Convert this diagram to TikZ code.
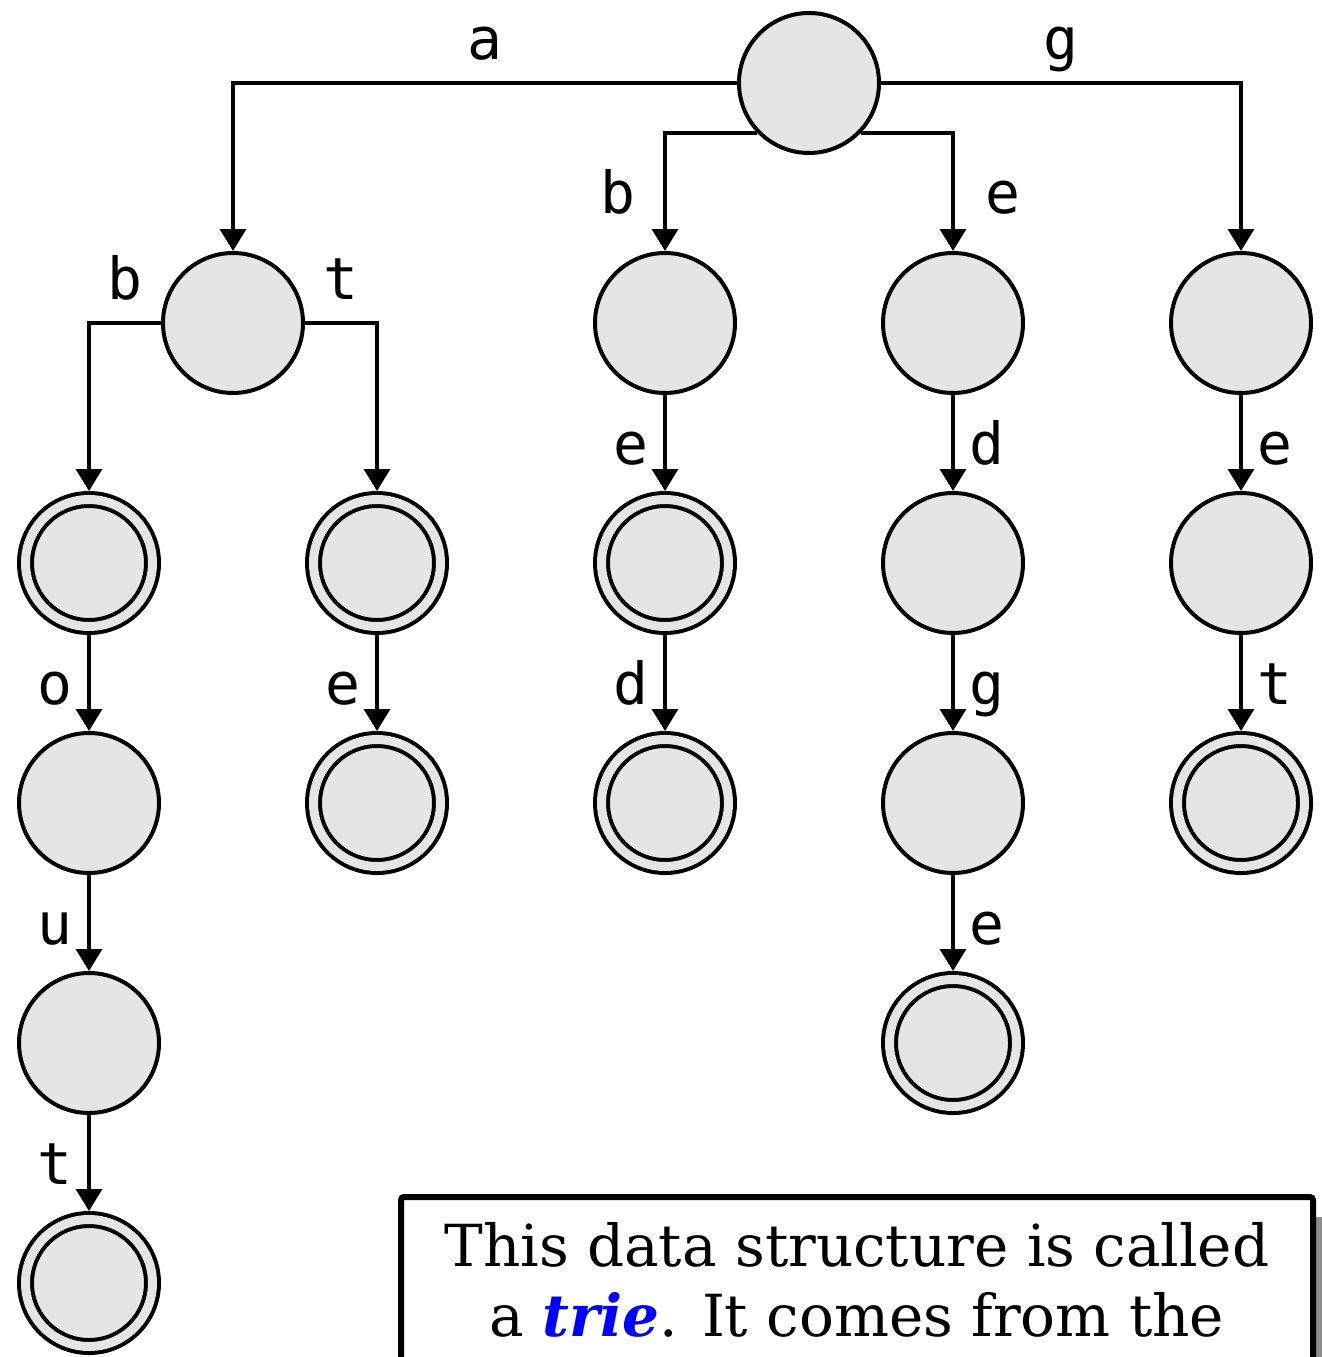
\documentclass[tikz,border=0pt]{standalone}
\usepackage{fontspec}
\usepackage{tikz}
\usetikzlibrary{arrows.meta,positioning}
\newfontfamily\labelfont{DejaVu Sans Mono}
\newfontfamily\notefont{DejaVu Serif}

\begin{document}
\begin{tikzpicture}[x=1pt, y=-1pt, node distance=96pt, line width=4pt,
        vertex/.style={circle, draw, fill=gray!20, inner sep=0pt, minimum size=140pt, outer sep=2pt},
        leaf/.style={vertex, double=gray!20, double distance=9pt, minimum size=127pt, outer sep=8.5pt},
        link/.style={-{Triangle[length=22pt,width=26pt]}, line width=3.5pt},
        lbl/.style={font=\labelfont\fontsize{58}{70}\selectfont, inner xsep=15pt, inner ysep=21.5pt, text height=43pt, text depth=0pt}]

    \useasboundingbox (0,0) rectangle (1322,1357);

    \node [vertex] (root) at (809,83) {};
    \node [vertex] (a) at (233,323) {};
    \node [vertex] (b) at (665,323) {};
    \node [vertex] (e) at (953,323) {};
    \node [vertex] (g) at (1241,323) {};
    \node [leaf] (ab) at (89,563) {};
    \node [leaf] (at) at (377,563) {};
    \node [leaf, below=of b] (be) {};
    \node [vertex, below=of e] (ed) {};
    \node [vertex, below=of g] (ge) {};
    \node [vertex, below=of ab] (abo) {};
    \node [leaf, below=of at] (ate) {};
    \node [leaf, below=of be] (bed) {};
    \node [vertex, below=of ed] (edg) {};
    \node [leaf, below=of ge] (get) {};
    \node [vertex, below=of abo] (abou) {};
    \node [leaf, below=of edg] (edge) {};
    \node [leaf, below=of abou] (about) {};

    \draw [link] (root) -| node [lbl, pos=0.25, above] {a} (a);
    \draw [link] (root) -| node [lbl, pos=0.25, above] {g} (g);
    \draw [link] (root.224) -| node [lbl, pos=0.75, left=13pt] {b} (b);
    \draw [link] (root.316) -| node [lbl, pos=0.75, right=16pt] {e} (e);
    \draw [link] (a) -| node [lbl, pos=0.25, above] {b} (ab);
    \draw [link] (a) -| node [lbl, pos=0.25, above] {t} (at);
    \draw [link] (ab) -- node [lbl, left] {o} (abo);
    \draw [link] (abo) -- node [lbl, left] {u} (abou);
    \draw [link] (abou) -- node [lbl, left] {t} (about);
    \draw [link] (at) -- node [lbl, left] {e} (ate);
    \draw [link] (b) -- node [lbl, left] {e} (be);
    \draw [link] (be) -- node [lbl, left] {d} (bed);
    \draw [link] (e) -- node [lbl, right] {d} (ed);
    \draw [link] (ed) -- node [lbl, right] {g} (edg);
    \draw [link] (edg) -- node [lbl, right] {e} (edge);
    \draw [link] (g) -- node [lbl, right] {e} (ge);
    \draw [link] (ge) -- node [lbl, right] {t} (get);

    % note box, runs off the bottom edge
    \fill [black!45, rounded corners=3pt] (411,1217) rectangle (1330,1420);
    \draw [line width=6pt, fill=white, rounded corners=3pt] (401,1197) rectangle (1313,1420);
    \node [anchor=north, inner sep=0pt, align=center, font=\notefont\fontsize{58}{70}\selectfont] (note) at (857,1220)
        {This data structure is called\\a \textcolor{blue}{\bfseries\itshape trie}. It comes from the};
\end{tikzpicture}
\end{document}
